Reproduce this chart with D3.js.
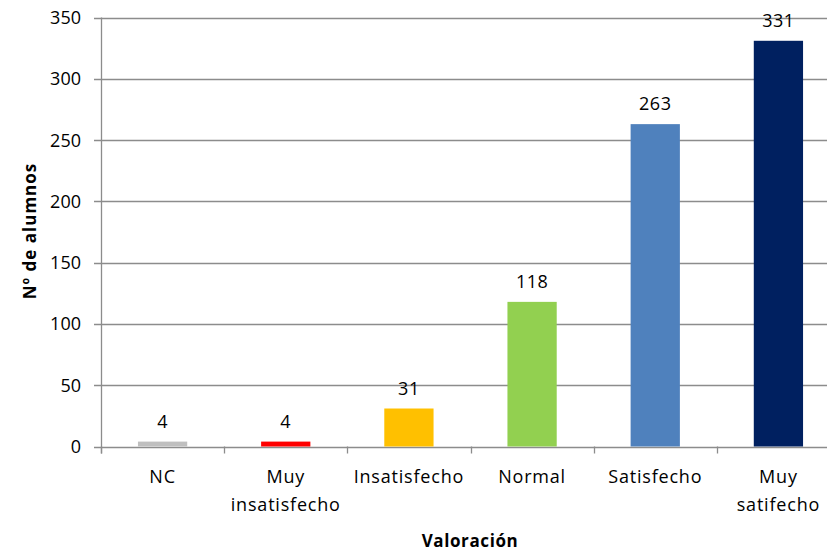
<!DOCTYPE html>
<html>
<head>
<meta charset="utf-8">
<script src="https://cdn.jsdelivr.net/npm/d3@7"></script>
<style>
  body { margin: 0; background: #fff; }
  svg text { font-family: "Open Sans", "Noto Sans", sans-serif; fill: #000; }
</style>
</head>
<body>
<div id="chart"></div>
<script>
// datos
var categorias = ["NC", "Muy insatisfecho", "Insatisfecho", "Normal", "Satisfecho", "Muy satifecho"];
var etiquetas = [["NC"], ["Muy", "insatisfecho"], ["Insatisfecho"], ["Normal"], ["Satisfecho"], ["Muy", "satifecho"]];
var alumnos = [4, 4, 31, 118, 263, 331];
var colores = ["#bfbfbf", "#ff0000", "#ffc000", "#92d050", "#4f81bd", "#002060"];
var yTicks = [0, 50, 100, 150, 200, 250, 300, 350];

var width = 827, height = 551;
var mLeft = 101, mRight = 840, mTop = 17.5, mBottom = 446.5;

var svg = d3.select("#chart").append("svg")
  .attr("width", width)
  .attr("height", height);

var x = d3.scaleBand().domain(categorias).range([mLeft, mRight]).paddingInner(0).paddingOuter(0);
var y = d3.scaleLinear().domain([0, 350]).range([mBottom, mTop]);

// lineas de division
svg.append("g").selectAll("line").data(yTicks).enter().append("line")
  .attr("x1", mLeft - 7).attr("x2", mRight)
  .attr("y1", function(d) { return Math.round(y(d)) + 0.5; })
  .attr("y2", function(d) { return Math.round(y(d)) + 0.5; })
  .style("stroke", "#8c8c8c").style("stroke-width", 1.3);

// eje y
svg.append("line")
  .attr("x1", mLeft + 0.5).attr("x2", mLeft + 0.5)
  .attr("y1", mTop).attr("y2", mBottom + 7)
  .style("stroke", "#8c8c8c").style("stroke-width", 1.3);

svg.append("g").selectAll("text").data(yTicks).enter().append("text")
  .attr("x", mLeft - 20)
  .attr("y", function(d) { return y(d); })
  .attr("dy", "0.36em")
  .attr("text-anchor", "end")
  .style("font-size", "18px")
  .text(function(d) { return d; });

// marcas de categoria
var bordes = categorias.map(function(c) { return x(c); });
svg.append("g").selectAll("line").data(bordes).enter().append("line")
  .attr("x1", function(d) { return Math.round(d) + 0.5; })
  .attr("x2", function(d) { return Math.round(d) + 0.5; })
  .attr("y1", mBottom).attr("y2", mBottom + 7)
  .style("stroke", "#8c8c8c").style("stroke-width", 1.3);

// barras
var bw = x.bandwidth() * 0.4;
svg.append("g").selectAll("rect").data(alumnos).enter().append("rect")
  .attr("x", function(d, i) { return x(categorias[i]) + x.bandwidth() / 2 - bw / 2; })
  .attr("y", function(d) { return y(d); })
  .attr("width", bw)
  .attr("height", function(d) { return mBottom - y(d); })
  .style("fill", function(d, i) { return colores[i]; });

// valores
svg.append("g").selectAll("text").data(alumnos).enter().append("text")
  .attr("x", function(d, i) { return x(categorias[i]) + x.bandwidth() / 2; })
  .attr("y", function(d) { return y(d) - 14; })
  .attr("text-anchor", "middle")
  .style("font-size", "18px").style("letter-spacing", "0.5px")
  .text(function(d) { return d; });

// etiquetas del eje x
var lab = svg.append("g").selectAll("text").data(etiquetas).enter().append("text")
  .attr("x", function(d, i) { return x(categorias[i]) + x.bandwidth() / 2; })
  .attr("y", 483)
  .attr("text-anchor", "middle")
  .style("font-size", "18px").style("letter-spacing", "0.8px");
lab.selectAll("tspan").data(function(d) { return d; }).enter().append("tspan")
  .attr("x", function() { return d3.select(this.parentNode).attr("x"); })
  .attr("dy", function(d, i) { return i === 0 ? 0 : 28; })
  .text(function(d) { return d; });

// titulos
svg.append("text")
  .attr("x", 470).attr("y", 547)
  .attr("text-anchor", "middle")
  .style("font-size", "17px").style("font-weight", "bold").style("letter-spacing", "0.6px")
  .text("Valoración");

svg.append("text")
  .attr("transform", "translate(36," + 231 + ") rotate(-90)")
  .attr("text-anchor", "middle")
  .style("font-size", "17px").style("font-weight", "bold").style("letter-spacing", "1px")
  .text("Nº de alumnos");
</script>
</body>
</html>
